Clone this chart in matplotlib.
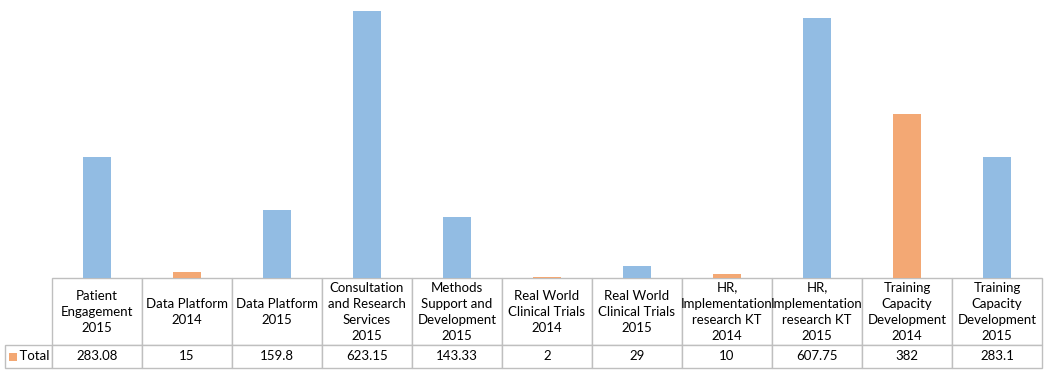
import matplotlib
matplotlib.use("Agg")
import matplotlib.pyplot as plt
from matplotlib.table import Table

categories = [
    "Patient\nEngagement\n2015",
    "Data Platform\n2014",
    "Data Platform\n2015",
    "Consultation\nand Research\nServices\n2015",
    "Methods\nSupport and\nDevelopment\n2015",
    "Real World\nClinical Trials\n2014",
    "Real World\nClinical Trials\n2015",
    "HR,\nImplementation\nresearch KT\n2014",
    "HR,\nImplementation\nresearch KT\n2015",
    "Training\nCapacity\nDevelopment\n2014",
    "Training\nCapacity\nDevelopment\n2015",
]
values = [283.08, 15, 159.8, 623.15, 143.33, 2, 29, 10, 607.75, 382, 283.1]
value_labels = ["283.08", "15", "159.8", "623.15", "143.33", "2", "29", "10", "607.75", "382", "283.1"]
years = [2015, 2014, 2015, 2015, 2015, 2014, 2015, 2014, 2015, 2014, 2015]
series_name = "Total"

BLUE = "#92BCE3"
ORANGE = "#F3A874"
GRID = "#BFBFBF"
FONT = "Lato"

W, H = 1053, 375
fig = plt.figure(figsize=(W / 100, H / 100), dpi=100)
ax_left, ax_right, ax_base = 52, 1042, 278
axw = ax_right - ax_left
ax = fig.add_axes([ax_left / W, (H - ax_base) / H, axw / W, ax_base / H])

x = list(range(len(values)))
colors = [ORANGE if y == 2014 else BLUE for y in years]
ax.bar(x, values, width=0.32, color=colors, zorder=2)
ax.set_xlim(-0.5, len(values) - 0.5)
ax.set_ylim(0, 649)
ax.set_xticks([])
ax.set_yticks([])
for s in ax.spines.values():
    s.set_visible(False)

# data table (sizes in axes fractions)
row_label_w = (ax_left - 5) / axw
col_w = 1 / len(values)
hdr_h, tot_h = 67 / ax_base, 23 / ax_base

tbl = Table(ax, loc="bottom")
tbl.AXESPAD = 0
for j, (cat, lab) in enumerate(zip(categories, value_labels)):
    c = tbl.add_cell(0, j, width=col_w, height=hdr_h, text=cat, loc="center")
    c.set_edgecolor(GRID)
    c = tbl.add_cell(1, j, width=col_w, height=tot_h, text=lab, loc="center")
    c.set_edgecolor(GRID)
c = tbl.add_cell(1, -1, width=row_label_w, height=tot_h, text="    " + series_name, loc="left")
c.set_edgecolor(GRID)
tbl.auto_set_font_size(False)
tbl.set_fontsize(9.5)
for cell in tbl.get_celld().values():
    cell.get_text().set_fontfamily(FONT)
    cell.get_text().set_linespacing(1.4)
    cell.PAD = 0.02
ax.add_table(tbl)

# legend key square in the row label
sq = plt.Rectangle((9 / W, (H - 361) / H), 8 / W, 8 / H, transform=fig.transFigure,
                   facecolor=ORANGE, edgecolor="none")
fig.patches.append(sq)

fig.savefig("out.png", dpi=100)
